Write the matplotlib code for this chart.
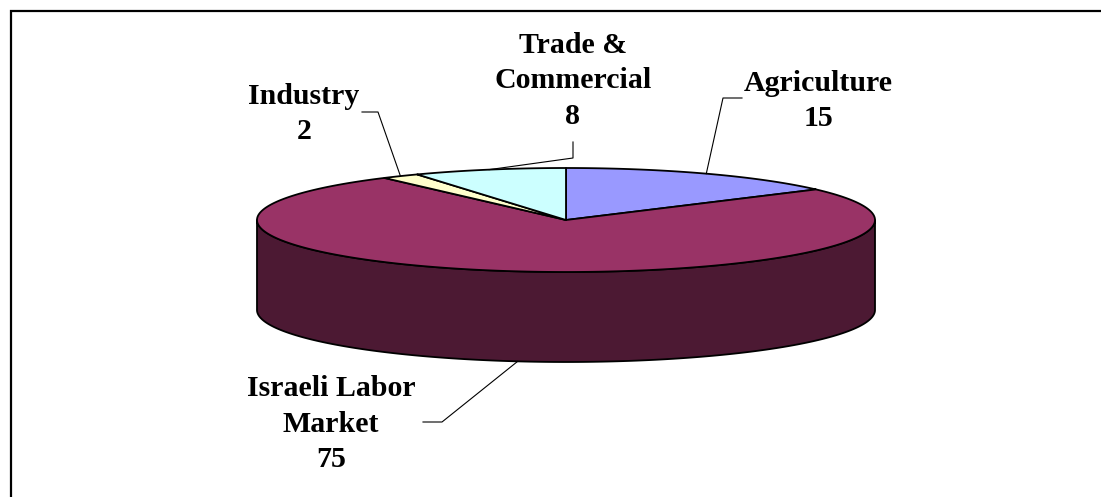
import numpy as np
import matplotlib
matplotlib.use("Agg")
import matplotlib.pyplot as plt
from matplotlib.patches import Polygon

# ---- data ----
categories = ["Agriculture", "Israeli Labor Market", "Industry", "Trade & Commercial"]
values = [15, 75, 2, 8]
label_texts = ["Agriculture\n15", "Israeli Labor\nMarket\n75", "Industry\n2", "Trade &\nCommercial\n8"]
top_colors = ["#9999FF", "#993366", "#FFFFCC", "#CCFFFF"]
side_colors = ["#4C4C80", "#4C1933", "#808066", "#668080"]

# ---- layout (pixel space) ----
W, H = 1101, 497
cx, cy = 566, 220          # centre of top ellipse
a, b = 309, 52             # semi-axes
depth = 90                 # thickness of the pie

label_pos = [(818, 101), (331, 424), (304, 114), (573, 81)]
# elbow point of each leader line (first point is near the label)
leader_start = [[(742, 98), (723, 98)],
                [(423, 422), (442, 422)],
                [(362, 112), (378, 112)],
                [(573, 142), (573, 158)]]

plt.rcParams['font.family'] = ['Liberation Serif', 'DejaVu Serif']

fig = plt.figure(figsize=(W / 100, H / 100), dpi=100)
ax = fig.add_axes([0, 0, 1, 1])
ax.set_xlim(0, W)
ax.set_ylim(H, 0)
ax.axis('off')

# frame
ax.plot([11, 11, W], [H, 11, 11], color='black', lw=1.6, solid_joinstyle='miter')

def ell(theta_deg, dy=0.0):
    t = np.radians(theta_deg)
    return cx + a * np.cos(t), cy - b * np.sin(t) + dy

total = float(sum(values))
cum = np.concatenate([[0], np.cumsum(values)]) / total
starts = 90 - 360 * cum[:-1]
ends = 90 - 360 * cum[1:]

# ---- side walls (front half 180..360) per slice ----
for i in range(len(values)):
    s, e = starts[i], ends[i]
    lo, hi = min(s, e), max(s, e)
    for k in (-720, -360, 0, 360):
        l2, h2 = max(lo + k, 180), min(hi + k, 360)
        if h2 > l2:
            th = np.linspace(l2, h2, 200)
            tx, ty = ell(th)
            bx, by = ell(th[::-1], depth)
            pts = np.column_stack([np.concatenate([tx, bx]), np.concatenate([ty, by])])
            ax.add_patch(Polygon(pts, closed=True, facecolor=side_colors[i],
                                 edgecolor='black', lw=1.3, joinstyle='round'))

# ---- top wedges ----
for i in range(len(values)):
    th = np.linspace(starts[i], ends[i], 300)
    ex, ey = ell(th)
    pts = np.column_stack([np.concatenate([[cx], ex]), np.concatenate([[cy], ey])])
    ax.add_patch(Polygon(pts, closed=True, facecolor=top_colors[i],
                         edgecolor='black', lw=1.3, joinstyle='round'))

# ---- labels and leader lines ----
for i in range(len(values)):
    mid = (starts[i] + ends[i]) / 2
    mx, my = ell(mid)
    if np.sin(np.radians(mid)) < 0:
        my += depth
    pts = leader_start[i] + [(mx, my)]
    ax.plot([p[0] for p in pts], [p[1] for p in pts], color='black', lw=0.8)
    ax.text(label_pos[i][0], label_pos[i][1], label_texts[i], ha='center', va='center',
            multialignment='center', fontsize=21.5, fontweight='bold', linespacing=1.42)

fig.savefig("out.png", dpi=100)
